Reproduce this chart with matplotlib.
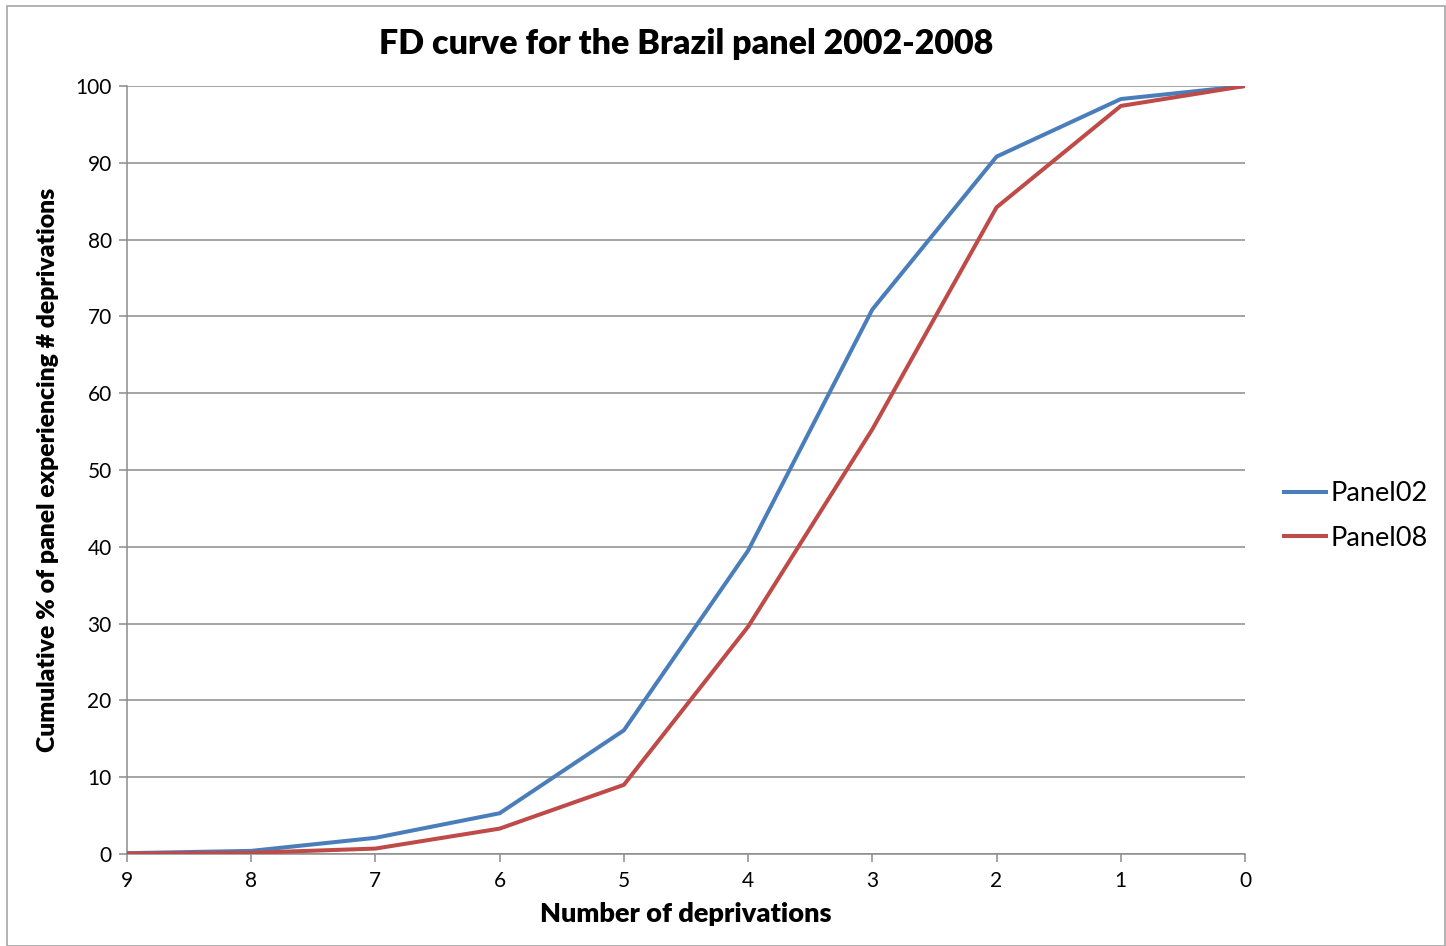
import matplotlib
matplotlib.use("Agg")
import matplotlib.pyplot as plt
from matplotlib.patches import Rectangle

# cumulative share of the panel by number of deprivations
deprivations = [9, 8, 7, 6, 5, 4, 3, 2, 1, 0]
panel02 = [0.1, 0.4, 2.1, 5.3, 16.1, 39.5, 70.9, 90.8, 98.3, 100.0]
panel08 = [0.05, 0.15, 0.7, 3.3, 9.0, 29.6, 55.3, 84.2, 97.4, 100.0]
y_ticks = list(range(0, 101, 10))

plt.rcParams["font.family"] = ["Lato", "DejaVu Sans"]

fig = plt.figure(figsize=(14.46, 9.46), dpi=100)
ax = fig.add_axes([0.0878, 0.0973, 0.7732, 0.8118])

ax.plot(deprivations, panel02, color="#4A7EBB", lw=2.9, label="Panel02", zorder=3)
ax.plot(deprivations, panel08, color="#BE4B48", lw=2.9, label="Panel08", zorder=3)

ax.set_xlim(9, 0)
ax.set_ylim(0, 100)
ax.set_xticks(deprivations)
ax.set_yticks(y_ticks)
ax.yaxis.grid(True, color="#8c8c8c", lw=1.1)
ax.set_axisbelow(True)

for side in ["top", "right"]:
    ax.spines[side].set_visible(False)
for side in ["left", "bottom"]:
    ax.spines[side].set_color("#8c8c8c")
    ax.spines[side].set_linewidth(1.1)
ax.tick_params(axis="both", colors="#8c8c8c", labelcolor="black",
               labelsize=15, length=6, width=1.1, direction="out")
ax.tick_params(axis="x", pad=6)
ax.tick_params(axis="y", pad=5)

ax.set_title("FD curve for the Brazil panel 2002-2008", fontsize=24.5,
             fontweight="heavy", pad=23)
ax.set_xlabel("Number of deprivations", fontsize=19.5, fontweight="heavy", labelpad=8)
ax.set_ylabel("Cumulative % of panel experiencing # deprivations", fontsize=17.8,
              fontweight="heavy", labelpad=12)

ax.legend(loc="center left", bbox_to_anchor=(1.013, 0.44), frameon=False,
          fontsize=19.5, handlelength=1.55, handletextpad=0.18, labelspacing=0.72)

fig.patches.append(Rectangle((0.005, 0.0), 0.994, 0.994, transform=fig.transFigure,
                             fill=False, edgecolor="#a6a6a6", lw=1.2))

fig.savefig("out.png", dpi=100)
